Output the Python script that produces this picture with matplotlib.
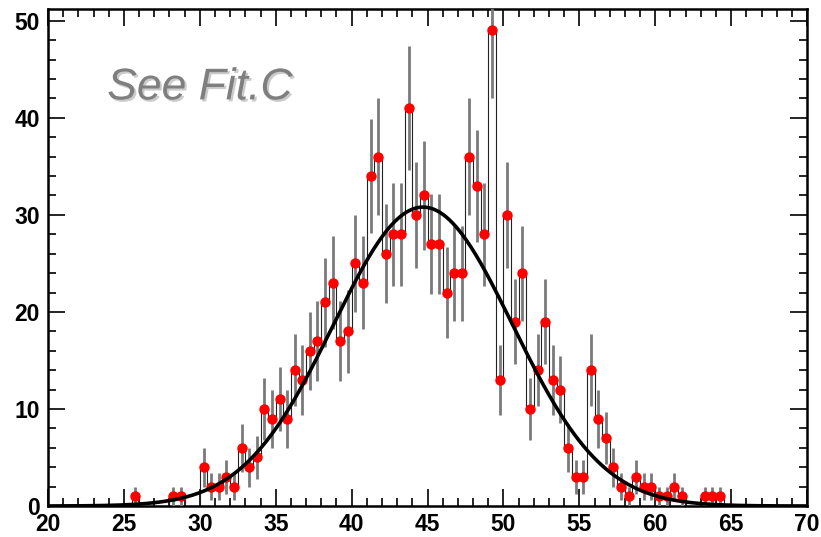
# ROOT-style histogram with gaussian fit
import numpy as np
import matplotlib
matplotlib.use('Agg')
import matplotlib.pyplot as plt
import matplotlib.patheffects as pe

plt.rcParams['font.family'] = ['Liberation Sans', 'DejaVu Sans']

# Histogram: 100 bins from 20 to 70
x_lo, x_hi, n_bins = 20, 70, 100
counts = [0, 0, 0, 0, 0, 0, 0, 0, 0, 0,
          0, 1, 0, 0, 0, 0, 1, 1, 0, 0,
          4, 2, 2, 3, 2, 6, 4, 5, 10, 9,
          11, 9, 14, 13, 16, 17, 21, 23, 17, 18,
          25, 23, 34, 36, 26, 28, 28, 41, 30, 32,
          27, 27, 22, 24, 24, 36, 33, 28, 49, 13,
          30, 19, 24, 10, 14, 19, 13, 12, 6, 3,
          3, 14, 9, 7, 4, 2, 1, 3, 2, 2,
          1, 1, 2, 1, 0, 0, 1, 1, 1, 0,
          0, 0, 0, 0, 0, 0, 0, 0, 0, 0]

# Gaussian fit parameters
fit_const = 30.8
fit_mean = 44.7
fit_sigma = 5.9

xticks = [20, 25, 30, 35, 40, 45, 50, 55, 60, 65, 70]
yticks = [0, 10, 20, 30, 40, 50]

counts = np.array(counts, dtype=float)
width = (x_hi - x_lo) / n_bins
centers = x_lo + width * (np.arange(n_bins) + 0.5)
errors = np.sqrt(counts)
filled = counts > 0

fig = plt.figure(figsize=(8.21, 5.37), dpi=100)
ax = fig.add_axes([0.0585, 0.0577, 0.9245, 0.9253])

# histogram outline
edges = np.concatenate([[x_lo], centers + width / 2])
ax.step(edges, np.concatenate([[counts[0]], counts]), where='pre',
        color='#222222', lw=0.8, zorder=2)

# error bars
ax.vlines(centers[filled], (counts - errors)[filled], (counts + errors)[filled],
          color='#7a7a7a', lw=2.0, zorder=3)

# markers
ax.plot(centers[filled], counts[filled], 'o', color='red', ms=7.5, mec='none', zorder=4)

# fit curve
xf = np.linspace(x_lo, x_hi, 500)
yf = fit_const * np.exp(-0.5 * ((xf - fit_mean) / fit_sigma) ** 2)
ax.plot(xf, yf, color='black', lw=2.6, zorder=5)

ax.text(23.9, 41.9, 'See Fit.C', fontsize=32, style='italic', color='#7f7f7f',
        path_effects=[pe.withSimplePatchShadow(offset=(1.5, -1.5), shadow_rgbFace='#999999', alpha=0.5)])

ax.set_xlim(x_lo, x_hi)
ax.set_ylim(0, 51.2)
ax.set_xticks(xticks)
ax.set_yticks(yticks)
ax.set_xticks(np.arange(20, 71, 1), minor=True)
ax.set_yticks(np.arange(0, 51, 2), minor=True)
ax.tick_params(which='both', direction='in', top=True, right=True, width=1.2)
ax.tick_params(which='major', length=12)
ax.tick_params(which='minor', length=5.5)
ax.tick_params(axis='x', which='major', pad=5)
ax.tick_params(axis='y', which='major', pad=6)
for lab in ax.get_xticklabels() + ax.get_yticklabels():
    lab.set_fontweight('bold')
    lab.set_fontsize(16.5)
for s in ax.spines.values():
    s.set_linewidth(1.8)

fig.savefig('out.png', dpi=100)
